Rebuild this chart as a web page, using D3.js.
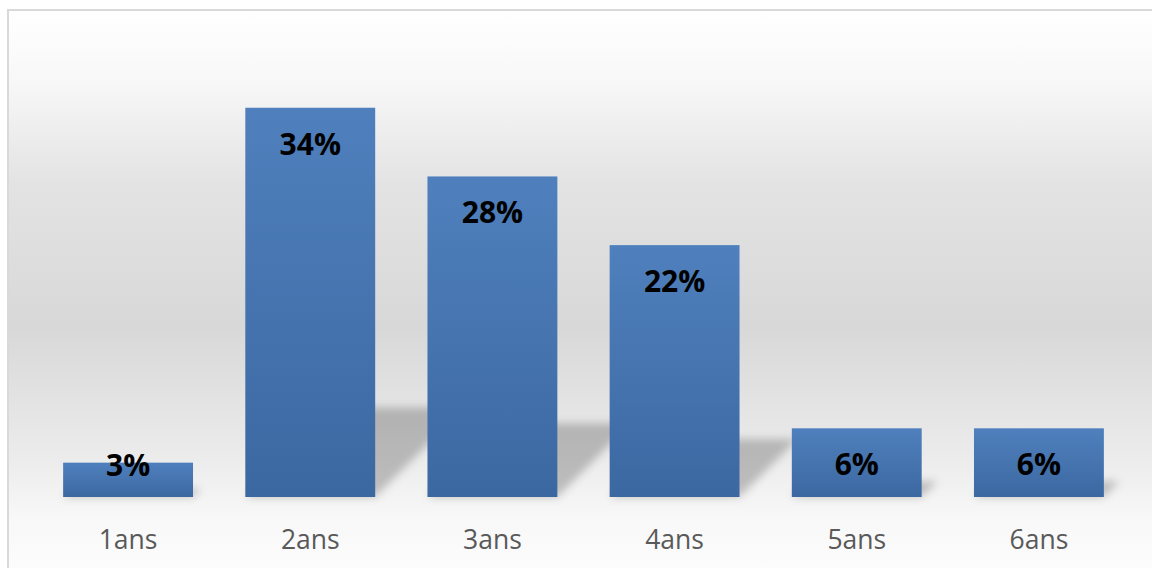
<!DOCTYPE html>
<html>
<head>
<meta charset="utf-8">
<script src="https://cdn.jsdelivr.net/npm/d3@7"></script>
<style>
  html, body { margin: 0; padding: 0; background: #ffffff; }
  svg { display: block; }
</style>
</head>
<body>
<svg id="chart" width="1152" height="568"></svg>
<script>
// Répartition par ancienneté
const categories = ["1ans", "2ans", "3ans", "4ans", "5ans", "6ans"];
const values = [3, 34, 28, 22, 6, 6];
const valueLabels = ["3%", "34%", "28%", "22%", "6%", "6%"];

const W = 1152, H = 568;
const svg = d3.select("#chart");
const defs = svg.append("defs");

// Chart area background: vertical grey band fading to white
const bg = defs.append("linearGradient")
  .attr("id", "bgGrad").attr("x1", 0).attr("y1", 0).attr("x2", 0).attr("y2", 1);
[[0, "#ffffff"], [0.12, "#f8f8f8"], [0.3, "#e3e3e3"], [0.55, "#d8d8d8"],
 [0.78, "#ececec"], [0.88, "#f8f8f8"], [1, "#fefefe"]]
  .forEach(([o, c]) => bg.append("stop").attr("offset", o).attr("stop-color", c));

// Bar fill: lighter blue at the top, darker at the base
const barGrad = defs.append("linearGradient")
  .attr("id", "barGrad").attr("x1", 0).attr("y1", 0).attr("x2", 0).attr("y2", 1);
barGrad.append("stop").attr("offset", 0).attr("stop-color", "#4f80bd");
barGrad.append("stop").attr("offset", 1).attr("stop-color", "#3c68a1");

// Soft blur for the perspective shadows
defs.append("filter").attr("id", "shadowBlur")
  .attr("x", "-50%").attr("y", "-50%").attr("width", "200%").attr("height", "200%")
  .append("feGaussianBlur").attr("stdDeviation", 4);

// Chart frame
svg.append("rect")
  .attr("x", 8).attr("y", 10).attr("width", W + 10).attr("height", H + 10)
  .attr("fill", "url(#bgGrad)")
  .attr("stroke", "#d9d9d9").attr("stroke-width", 2);

const x = d3.scaleBand()
  .domain(categories)
  .range([37, 1130])
  .paddingInner(0.287)
  .paddingOuter(0.1435);

const y = d3.scaleLinear()
  .domain([0, 35])
  .range([497, 96.3]);

const data = categories.map((c, i) => ({ cat: c, v: values[i], label: valueLabels[i] }));

// Perspective shadows cast up and to the right of each bar
const shadowScale = 0.23;
svg.append("g")
  .attr("filter", "url(#shadowBlur)")
  .selectAll("path")
  .data(data)
  .join("path")
  .attr("fill", "#000000")
  .attr("fill-opacity", 0.22)
  .attr("d", d => {
    const x0 = x(d.cat), x1 = x0 + x.bandwidth();
    const base = y(0);
    const hs = (y(0) - y(d.v)) * shadowScale;
    const dx = hs;
    return `M${x0},${base}L${x1},${base}L${x1 + dx},${base - hs}L${x0 + dx},${base - hs}Z`;
  });

// Bars
svg.append("g")
  .selectAll("rect")
  .data(data)
  .join("rect")
  .attr("x", d => x(d.cat))
  .attr("y", d => y(d.v))
  .attr("width", x.bandwidth())
  .attr("height", d => y(0) - y(d.v))
  .attr("fill", "url(#barGrad)");

// Value labels inside the top of each bar
svg.append("g")
  .selectAll("text")
  .data(data)
  .join("text")
  .attr("x", d => x(d.cat) + x.bandwidth() / 2)
  .attr("y", d => Math.min(y(d.v) + 47, y(0) - 21))
  .attr("text-anchor", "middle")
  .attr("font-family", "'Open Sans', sans-serif")
  .attr("font-weight", "bold")
  .attr("font-size", 30)
  .attr("fill", "#000000")
  .text(d => d.label);

// Category axis
const axis = svg.append("g")
  .attr("transform", `translate(0,${y(0)})`)
  .call(d3.axisBottom(x).tickSize(0));
axis.select(".domain").remove();
axis.selectAll("text")
  .attr("y", 52)
  .attr("dy", null)
  .attr("font-family", "'Open Sans', sans-serif")
  .attr("font-size", 26.5)
  .attr("fill", "#595959");
</script>
</body>
</html>
